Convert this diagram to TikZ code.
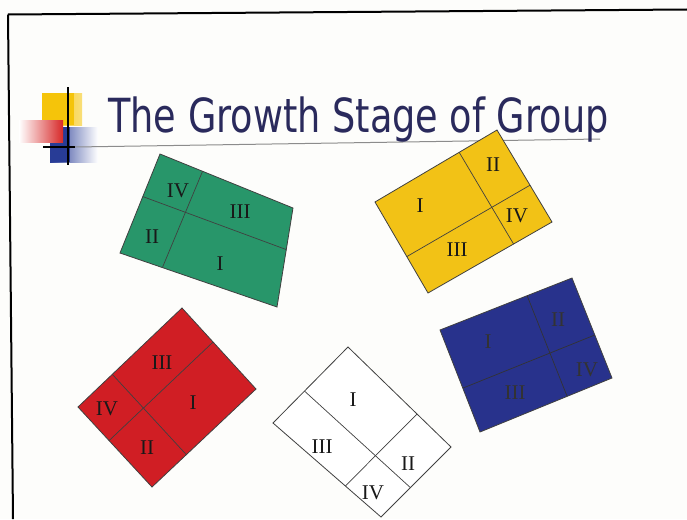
\documentclass[tikz,border=0pt]{standalone}
\usepackage{fontspec}
\usetikzlibrary{calc}
\newfontfamily\titlefont{DejaVu Sans}
\newfontfamily\numfont{Liberation Serif}
\begin{document}
\begin{tikzpicture}[x=1pt,y=-1pt,
  edge/.style={draw=black!75, line width=0.8pt, line join=miter},
  divider/.style={draw=black!75, line width=0.7pt},
  numlabel/.style={inner sep=0pt, font=\numfont\fontsize{21}{24}\selectfont, text=black!90}]
\definecolor{bgcol}{RGB}{253,253,251}
\definecolor{titlecol}{RGB}{42,42,92}
\definecolor{grn}{RGB}{40,150,106}
\definecolor{ylw}{RGB}{242,194,22}
\definecolor{rd}{RGB}{208,30,36}
\definecolor{blu}{RGB}{40,50,140}
\definecolor{logoyellow}{RGB}{245,196,10}
\definecolor{logoblue}{RGB}{40,60,150}
\definecolor{logored}{RGB}{215,40,40}
\useasboundingbox (0,0) rectangle (687,519);
\fill[bgcol] (0,0) rectangle (687,519);
% frame
\draw[black, line width=2pt] (8,14.5) -- (687,9.5);
\draw[black, line width=2pt] (8,14.5) -- (13,519);
% logo
\shade[left color=logoyellow, right color=logoyellow!55] (42,93) rectangle (82,125);
\fill[logoyellow] (42,93) rectangle (74,125);
\shade[left color=logoblue, right color=white] (50,127) rectangle (98,162);
\fill[logoblue] (50,127) rectangle (70,162);
\shade[left color=white, right color=logored] (19,120) rectangle (63,142);
\draw[black, line width=1.6pt] (68,87) -- (68,165);
\draw[black, line width=1.6pt] (43,147) -- (75,147);
\draw[black!45, line width=1pt] (75,147) -- (600,139);
% title
\node[anchor=base west, inner sep=0pt, text=titlecol] (title) at (108,132)
  {\scalebox{0.78}[1]{\titlefont\fontsize{47}{50}\selectfont The Growth Stage of Group}};
% green
\coordinate (gA) at (160,154); \coordinate (gB) at (293,208);
\coordinate (gC) at (277,307); \coordinate (gD) at (120,253);
\path[edge, fill=grn] (gA) -- (gB) -- (gC) -- (gD) -- cycle;
\draw[divider] ($(gA)!0.32!(gB)$) -- ($(gD)!0.27!(gC)$);
\draw[divider] ($(gA)!0.43!(gD)$) -- ($(gB)!0.42!(gC)$);
\node[numlabel] (g4) at (178,191) {IV};
\node[numlabel] (g3) at (240,212) {III};
\node[numlabel] (g2) at (152,237) {II};
\node[numlabel] (g1) at (220,264) {I};
% yellow
\coordinate (yA) at (375,202); \coordinate (yB) at (497,130);
\coordinate (yC) at (552,222); \coordinate (yD) at (428,293);
\path[edge, fill=ylw] (yA) -- (yB) -- (yC) -- (yD) -- cycle;
\draw[divider] ($(yA)!0.69!(yB)$) -- ($(yD)!0.69!(yC)$);
\draw[divider] ($(yA)!0.6!(yD)$) -- ($(yB)!0.6!(yC)$);
\node[numlabel] (y1) at (420,206) {I};
\node[numlabel] (y2) at (493,165) {II};
\node[numlabel] (y4) at (517,216) {IV};
\node[numlabel] (y3) at (457,250) {III};
% red
\coordinate (rA) at (78,407); \coordinate (rB) at (182,308);
\coordinate (rC) at (256,389); \coordinate (rD) at (152,487);
\path[edge, fill=rd] (rA) -- (rB) -- (rC) -- (rD) -- cycle;
\draw[divider] ($(rA)!0.33!(rB)$) -- ($(rD)!0.33!(rC)$);
\draw[divider] ($(rA)!0.42!(rD)$) -- ($(rB)!0.42!(rC)$);
\node[numlabel] (r3) at (162,363) {III};
\node[numlabel] (r1) at (193,403) {I};
\node[numlabel] (r4) at (107,409) {IV};
\node[numlabel] (r2) at (147,448) {II};
% white
\coordinate (wA) at (273,423); \coordinate (wB) at (348,347);
\coordinate (wC) at (451,447); \coordinate (wD) at (381,517);
\path[edge, fill=white] (wA) -- (wB) -- (wC) -- (wD) -- cycle;
\draw[divider] ($(wA)!0.42!(wB)$) -- ($(wD)!0.42!(wC)$);
\draw[divider] ($(wA)!0.67!(wD)$) -- ($(wB)!0.67!(wC)$);
\node[numlabel] (w1) at (353,400) {I};
\node[numlabel] (w3) at (322,447) {III};
\node[numlabel] (w2) at (408,464) {II};
\node[numlabel] (w4) at (373,493) {IV};
% blue
\coordinate (bA) at (440,330); \coordinate (bB) at (572,278);
\coordinate (bC) at (612,378); \coordinate (bD) at (480,432);
\path[edge, fill=blu] (bA) -- (bB) -- (bC) -- (bD) -- cycle;
\draw[divider, draw=black!80] ($(bA)!0.66!(bB)$) -- ($(bD)!0.66!(bC)$);
\draw[divider, draw=black!80] ($(bA)!0.57!(bD)$) -- ($(bB)!0.57!(bC)$);
\node[numlabel, text=black!80] (b1) at (488,342) {I};
\node[numlabel, text=black!80] (b2) at (558,320) {II};
\node[numlabel, text=black!80] (b4) at (587,370) {IV};
\node[numlabel, text=black!80] (b3) at (515,393) {III};
\end{tikzpicture}
\end{document}
